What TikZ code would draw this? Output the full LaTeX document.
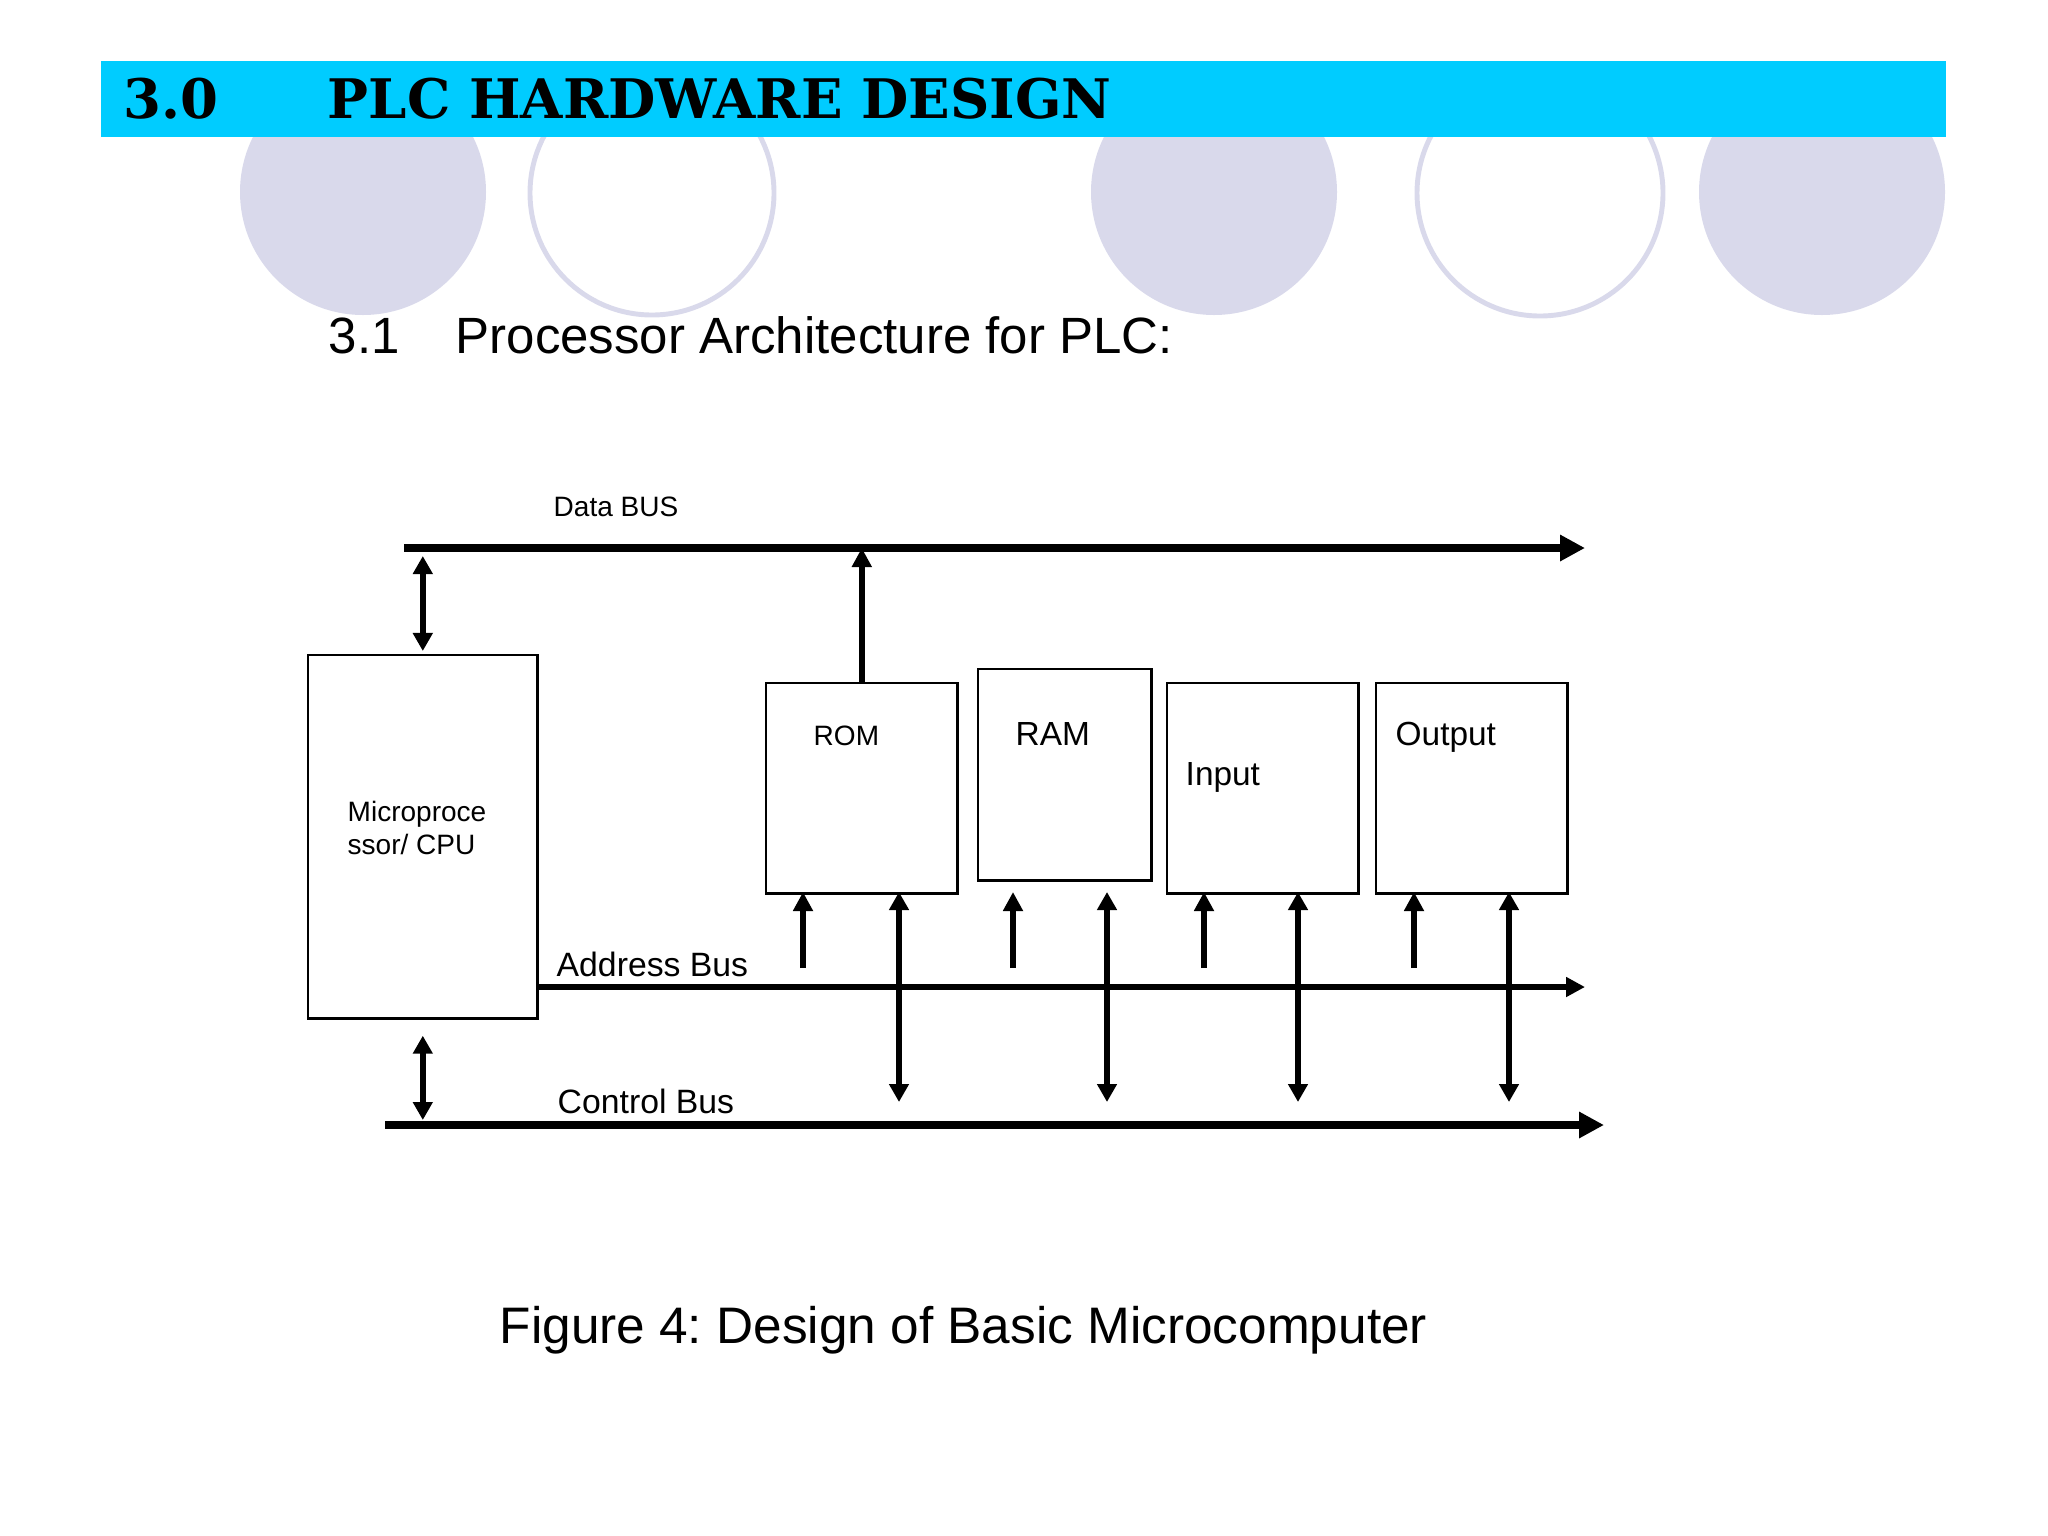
\documentclass[tikz,border=0pt]{standalone}
\usepackage{fontspec}
\setmainfont{Liberation Sans}
\newfontfamily\headfont{DejaVu Serif}
\usetikzlibrary{arrows.meta}
\frenchspacing

\definecolor{banner}{HTML}{00CCFF}
\definecolor{lavender}{HTML}{D9D9EB}

\tikzset{
  unit/.style={draw, line width=0.7pt, anchor=north west, inner sep=0pt},
  lbl/.style={inner sep=0pt, anchor=base west},
  bus/.style={line width=2.3pt, -{Triangle[width=0.25cm, length=0.25cm]}},
  link/.style={line width=1.7pt, -{Triangle[width=0.19cm, length=0.19cm]}},
  twoway/.style={line width=1.7pt, {Triangle[width=0.19cm, length=0.18cm]}-{Triangle[width=0.19cm, length=0.18cm]}},
}

\begin{document}
\begin{tikzpicture}[x=0.01cm, y=-0.01cm]
    \useasboundingbox (0,0) rectangle (2048,1536);

    % Decorative circles behind the banner
    \fill[lavender] (363,192) circle (123);
    \draw[lavender, line width=1.4pt, fill=white] (652,193) circle (122);
    \fill[lavender] (1214,192) circle (123);
    \draw[lavender, line width=1.4pt, fill=white] (1540,193) circle (123);
    \fill[lavender] (1822,192) circle (123);

    % Banner with heading
    \fill[banner] (101,61) rectangle (1946,137);
    \node[lbl, font={\headfont\bfseries\fontsize{15.5pt}{18pt}\selectfont}] (secnum) at (123,118) {3.0};
    \node[lbl, font={\headfont\bfseries\fontsize{15.5pt}{18pt}\selectfont}] (sectitle) at (327,118) {PLC HARDWARE DESIGN};

    % Sub heading
    \node[lbl, font=\fontsize{14.5pt}{17pt}\selectfont] (subnum) at (328,353) {3.1};
    \node[lbl, font=\fontsize{14.5pt}{17pt}\selectfont] (subtitle) at (455,353) {Processor Architecture for PLC:};

    % Bus end points
    \coordinate (dbL) at (404,548);  \coordinate (dbR) at (1585,548);
    \coordinate (abR) at (1585,987);
    \coordinate (cbL) at (385,1125); \coordinate (cbR) at (1604,1125);

    % Units
    \node[unit, minimum width=2.29cm, minimum height=3.63cm] (cpu) at (307,654) {};
    \node[unit, minimum width=1.91cm, minimum height=2.10cm] (rom) at (765,682) {};
    \node[unit, minimum width=1.73cm, minimum height=2.11cm] (ram) at (977,668) {};
    \node[unit, minimum width=1.91cm, minimum height=2.10cm] (inp) at (1166,682) {};
    \node[unit, minimum width=1.91cm, minimum height=2.10cm] (out) at (1375,682) {};

    % Unit labels
    \node[inner sep=0pt, anchor=north west, align=left, font=\fontsize{7.97pt}{9.4pt}\selectfont] (cputxt) at (347,800) {Microproce\\ssor/ CPU};
    \node[lbl, font=\fontsize{7.97pt}{9pt}\selectfont] (romtxt) at (813,745) {ROM};
    \node[lbl, font=\fontsize{9.5pt}{11pt}\selectfont] (ramtxt) at (1015,745) {RAM};
    \node[lbl, font=\fontsize{9.5pt}{11pt}\selectfont] (inptxt) at (1185,785) {Input};
    \node[lbl, font=\fontsize{9.5pt}{11pt}\selectfont] (outtxt) at (1395,745) {Output};

    % Buses
    \draw[bus] (dbL) -- (dbR);
    \draw[link] (cpu.south east |- abR) -- (abR);
    \draw[bus] (cbL) -- (cbR);
    \node[lbl, font=\fontsize{7.97pt}{9pt}\selectfont] (dbtxt) at (553,516) {Data BUS};
    \node[lbl, font=\fontsize{9.6pt}{11pt}\selectfont] (abtxt) at (556,976) {Address Bus};
    \node[lbl, font=\fontsize{9.6pt}{11pt}\selectfont] (cbtxt) at (557,1113) {Control Bus};

    % CPU and ROM to the buses
    \draw[twoway] ([yshift=0.03cm]cpu.north) -- ([yshift=-0.08cm]cpu.north |- dbL);
    \draw[twoway] ([yshift=-0.16cm]cpu.south) -- ([yshift=0.05cm]cpu.south |- cbL);
    \draw[link] (rom.north) -- (rom.north |- dbL);

    % Address lines (up) and control lines (both ways)
    \foreach \a/\b in {803/899, 1013/1107, 1204/1298, 1414/1509} {
        \draw[link] (\a,968) -- (\a,892);
        \draw[twoway] (\b,892) -- (\b,1102);
    }

    % Caption
    \node[lbl, font=\fontsize{14.6pt}{17pt}\selectfont] (caption) at (499,1343) {Figure 4: Design of Basic Microcomputer};
\end{tikzpicture}
\end{document}
